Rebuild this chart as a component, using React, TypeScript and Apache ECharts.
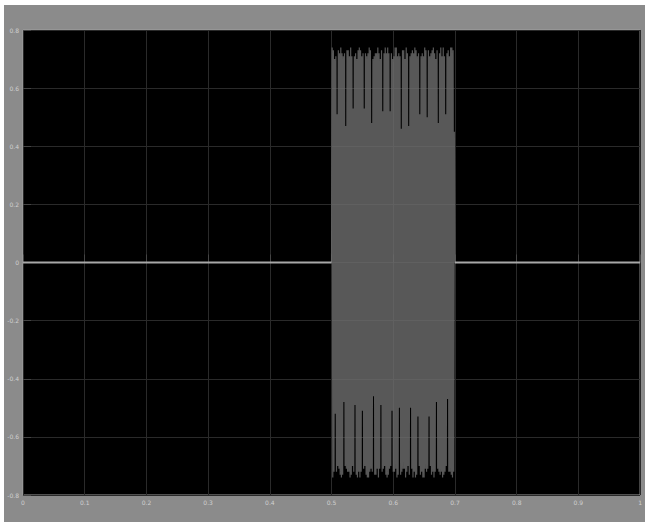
import React, { useEffect, useRef } from "react";
import * as echarts from "echarts";

const xTicks = ["0", "0.1", "0.2", "0.3", "0.4", "0.5", "0.6", "0.7", "0.8", "0.9", "1"];
const yMin = -0.8;
const yMax = 0.8;
const yStep = 0.2;

// flat baseline segments (time, value)
const baselineBefore: [number, number][] = [[0, 0], [0.5, 0]];
const baselineAfter: [number, number][] = [[0.7, 0], [1, 0]];

// burst samples from t = 0.5 to t = 0.7
const burstStart = 0.5;
const sampleStep = 0.001;
const burstValues = [
  0.00, 0.74, -0.74, 0.73, -0.72, 0.70, -0.52, 0.71, -0.72, 0.51, -0.70, 0.73, -0.71, 0.72, -0.73,
  0.74, -0.74, 0.72, -0.73, 0.71, -0.48, 0.72, -0.70, 0.47, -0.71, 0.73, -0.72, 0.73, -0.72, 0.71,
  -0.74, 0.74, -0.73, 0.71, -0.70, 0.53, -0.72, 0.71, -0.49, 0.72, -0.73, 0.70, -0.74, 0.73, -0.72,
  0.74, -0.74, 0.73, -0.72, 0.71, -0.51, 0.72, -0.71, 0.53, -0.70, 0.72, -0.73, 0.71, -0.74, 0.72,
  -0.74, 0.74, -0.72, 0.73, -0.71, 0.48, -0.72, 0.70, -0.46, 0.71, -0.73, 0.72, -0.73, 0.72, -0.71,
  0.74, -0.74, 0.72, -0.71, 0.70, -0.49, 0.73, -0.72, 0.52, -0.71, 0.72, -0.70, 0.74, -0.73, 0.72,
  -0.74, 0.74, -0.73, 0.72, -0.71, 0.52, -0.70, 0.72, -0.51, 0.70, -0.72, 0.71, -0.72, 0.74, -0.71,
  0.74, -0.74, 0.71, -0.73, 0.72, -0.50, 0.71, -0.73, 0.46, -0.72, 0.73, -0.71, 0.73, -0.71, 0.70,
  -0.74, 0.74, -0.72, 0.72, -0.70, 0.47, -0.73, 0.71, -0.50, 0.72, -0.71, 0.73, -0.74, 0.72, -0.72,
  0.74, -0.74, 0.73, -0.73, 0.71, -0.53, 0.72, -0.70, 0.51, -0.73, 0.71, -0.72, 0.72, -0.74, 0.71,
  -0.74, 0.74, -0.71, 0.73, -0.72, 0.50, -0.71, 0.73, -0.53, 0.71, -0.70, 0.72, -0.73, 0.73, -0.72,
  0.74, -0.74, 0.72, -0.72, 0.70, -0.48, 0.73, -0.71, 0.48, -0.72, 0.72, -0.73, 0.74, -0.72, 0.71,
  -0.74, 0.74, -0.73, 0.71, -0.72, 0.51, -0.70, 0.72, -0.47, 0.73, -0.72, 0.71, -0.72, 0.74, -0.73,
  0.74, -0.74, 0.73, -0.72, 0.45, 0.00,
];

export default function App() {
  const ref = useRef<HTMLDivElement>(null);
  useEffect(() => {
    document.body.style.margin = "0";
    if (!ref.current) return;
    const chart = echarts.init(ref.current, null, { renderer: "svg" });
    const burstData = burstValues.map((v, i) => [
      Math.round((burstStart + i * sampleStep) * 10000) / 10000,
      v,
    ]);
    const baselineData = [...baselineBefore, [null, null], ...baselineAfter];
    chart.setOption({
      animation: false,
      backgroundColor: "#8b8b8b",
      graphic: [
        { type: "rect", shape: { x: 0, y: 0, width: 645, height: 5 }, style: { fill: "#ffffff" }, silent: true },
        { type: "rect", shape: { x: 0, y: 0, width: 4, height: 522 }, style: { fill: "#ffffff" }, silent: true },
      ],
      grid: {
        left: 23,
        right: 4,
        top: 30,
        bottom: 27,
        show: true,
        backgroundColor: "#000000",
        borderColor: "#a0a0a0",
        borderWidth: 1,
      },
      xAxis: {
        type: "value",
        min: 0,
        max: 1,
        interval: 0.1,
        axisLine: { show: false },
        axisTick: { show: true, inside: true, length: 8, lineStyle: { color: "#444" } },
        axisLabel: {
          color: "#d0d0d0",
          fontSize: 6,
          margin: 4,
          fontFamily: "DejaVu Sans",
          formatter: (v: number) => xTicks[Math.round(v * 10)] ?? "",
        },
        splitLine: { show: true, lineStyle: { color: "#2a2a2a", width: 1 } },
      },
      yAxis: {
        type: "value",
        min: yMin,
        max: yMax,
        interval: yStep,
        axisLine: { show: false },
        axisTick: { show: true, inside: true, length: 8, lineStyle: { color: "#444" } },
        axisLabel: {
          color: "#d0d0d0",
          fontSize: 6,
          margin: 4,
          fontFamily: "DejaVu Sans",
          formatter: (v: number) => (Math.abs(v) < 1e-9 ? "0" : v.toFixed(1)),
        },
        splitLine: { show: true, lineStyle: { color: "#2a2a2a", width: 1 } },
      },
      series: [
        {
          type: "line",
          data: baselineData,
          showSymbol: false,
          connectNulls: false,
          lineStyle: { color: "#a8a8a8", width: 2 },
          z: 3,
        },
        {
          type: "line",
          data: burstData,
          showSymbol: false,
          lineStyle: { color: "#6e6e6e", width: 1.2, opacity: 0.8 },
          z: 2,
        },
      ],
    });
    return () => chart.dispose();
  }, []);
  return (
    <div
      ref={ref}
      style={{ position: "fixed", left: 0, top: 0, width: 645, height: 522 }}
    />
  );
}
